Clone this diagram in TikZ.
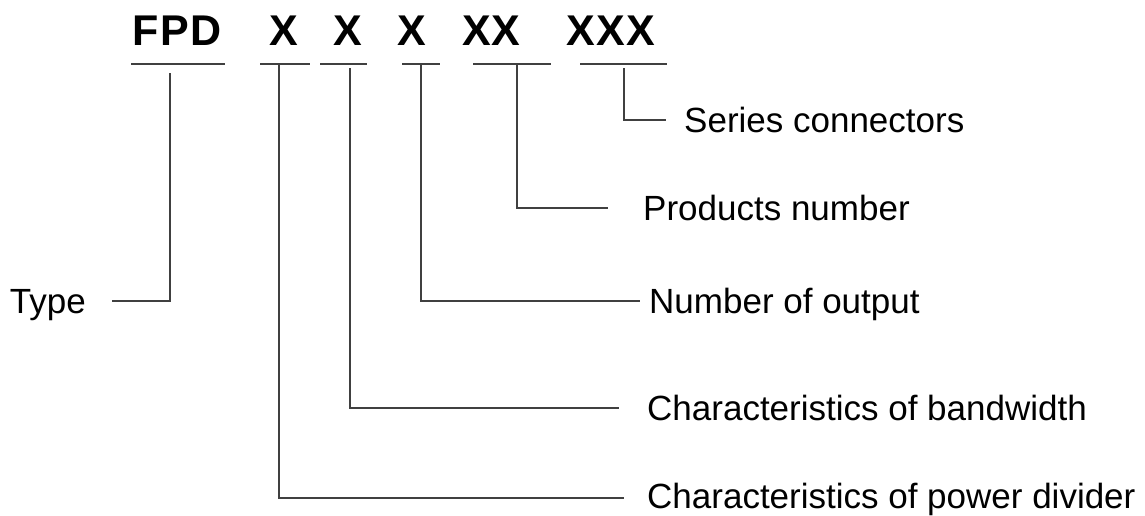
\documentclass[tikz,border=0pt]{standalone}
\usepackage{fontspec}
\setmainfont{Liberation Sans}
\usetikzlibrary{positioning}

\begin{document}
\begin{tikzpicture}[x=1pt,y=-1pt,
  code/.style={font=\fontsize{43}{43}\selectfont\bfseries,inner sep=0pt,anchor=base},
  lab/.style={font=\fontsize{35}{35}\selectfont,inner sep=0pt,anchor=base west},
  conn/.style={line width=1.3pt,black!75}]
 \useasboundingbox (0,0) rectangle (1145,515);
 % code letters
 \node[code] (FPD) at (177,45) {F\kern2pt P\kern2pt D};
 \node[code] (XA) at (284,45) {X};
 \node[code] (XB) at (348,45) {X};
 \node[code] (XC) at (412,45) {X};
 \node[code] (XD) at (491,45) {XX};
 \node[code] (XE) at (611,45) {X\kern1pt X\kern1pt X};
 % underlines
 \foreach \N/\A/\B in {FPD/131/225,XA/260/310,XB/320/367,XC/402/440,XD/473/551,XE/580/667}
  {\coordinate (\N-l) at (\A,64); \coordinate (\N-r) at (\B,64);
   \draw[conn] (\N-l) -- (\N-r);}
 % labels
 \node[lab] (Ser) at (684,132) {Series connectors};
 \node[lab] (Pro) at (643,220) {Products number};
 \node[lab] (Num) at (649,313) {Number of output};
 \node[lab] (Bw) at (647,420) {Characteristics of bandwidth};
 \node[lab] (Pd) at (647,508) {Characteristics of power divider};
 \node[lab,anchor=base east] (Typ) at (86,313) {Type};
 % connector ends
 \coordinate (FPD-t) at (170,73);  \coordinate (Typ-e) at (112,301);
 \coordinate (XA-t) at (279,64);   \coordinate (Pd-e) at (624,498);
 \coordinate (XB-t) at (350,68);   \coordinate (Bw-e) at (619,408);
 \coordinate (XC-t) at (421,64);   \coordinate (Num-e) at (640,301);
 \coordinate (XD-t) at (517,64);   \coordinate (Pro-e) at (608,208);
 \coordinate (XE-t) at (624,68);   \coordinate (Ser-e) at (666,120);
 \path[conn] foreach \P/\Q in {FPD/Typ,XA/Pd,XB/Bw,XC/Num,XD/Pro,XE/Ser}
  {(\P-t) edge[to path={|- (\tikztotarget)}] (\Q-e)};
\end{tikzpicture}
\end{document}
